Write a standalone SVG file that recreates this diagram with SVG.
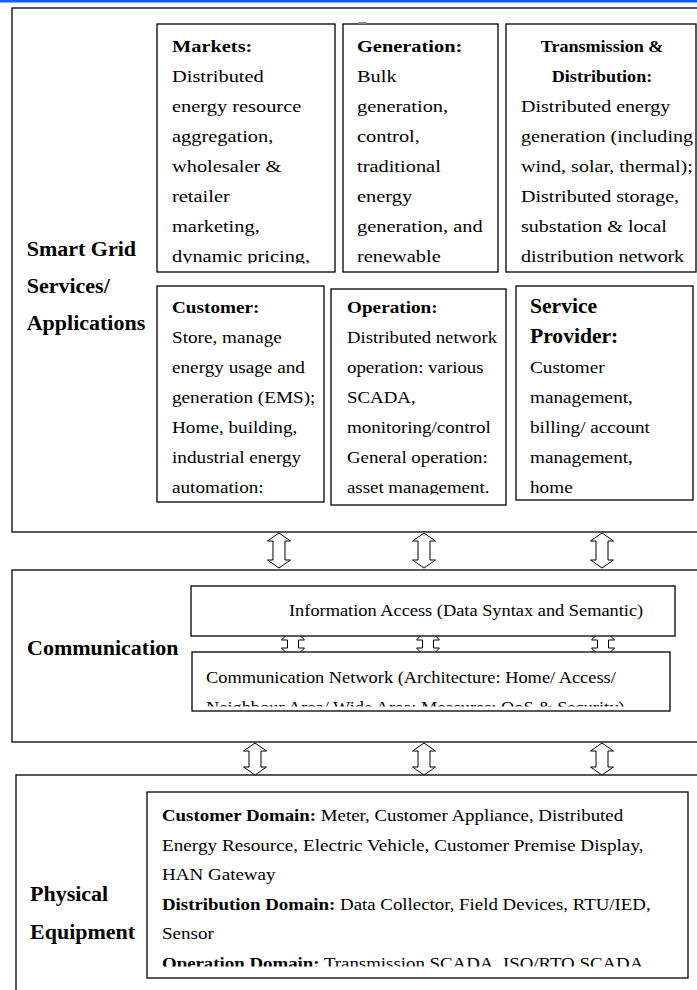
<svg xmlns="http://www.w3.org/2000/svg" width="697" height="990" viewBox="0 0 697 990">
<style>
.box{fill:#fff;stroke:#000;stroke-width:1.3}
.t{font-family:"Liberation Serif","Times New Roman",serif;font-size:17px;fill:#000}
.b{font-weight:bold}
.lab{font-family:"Liberation Serif","Times New Roman",serif;font-size:20px;font-weight:bold;fill:#000}
.arr{fill:#fff;stroke:#000;stroke-width:1}
</style>
<defs>
<clipPath id="cMk"><rect x="157" y="24" width="178" height="239.5"/></clipPath>
<clipPath id="cGe"><rect x="343" y="24" width="155" height="239.5"/></clipPath>
<clipPath id="cTd"><rect x="506" y="24" width="190" height="239.5"/></clipPath>
<clipPath id="cCu"><rect x="157" y="286" width="167" height="208.5"/></clipPath>
<clipPath id="cOp"><rect x="331" y="289" width="175" height="205.5"/></clipPath>
<clipPath id="cSp"><rect x="516" y="286" width="177" height="208.5"/></clipPath>
<clipPath id="cNw"><rect x="192" y="652" width="478" height="54.5"/></clipPath>
<clipPath id="cPh"><rect x="147" y="792" width="541" height="174.5"/></clipPath>
</defs>
<rect x="0" y="0" width="697" height="2.5" fill="#0b5fe8"/>

<g id="layer-services">
<rect class="box" x="12" y="8" width="700" height="524"/>
<text class="lab" transform="matrix(1.1 0 0 1 26.7 256)">Smart Grid</text>
<text class="lab" transform="matrix(1.1 0 0 1 26.7 293)">Services/</text>
<text class="lab" transform="matrix(1.1 0 0 1 26.7 330)">Applications</text>
</g>

<g id="layer-communication">
<rect class="box" x="12" y="570" width="700" height="172"/>
<text class="lab" transform="matrix(1.1 0 0 1 27 655)">Communication</text>
</g>

<g id="layer-physical">
<rect class="box" x="16" y="775" width="700" height="230"/>
<text class="lab" transform="matrix(1.1 0 0 1 30 901)">Physical</text>
<text class="lab" transform="matrix(1.1 0 0 1 30 939)">Equipment</text>
</g>

<g id="connectors">
<path class="arr" d="M279 533 L290.5 541 L285 541 L285 560 L290.5 560 L279 568 L267.5 560 L273 560 L273 541 L267.5 541 Z"/>
<path class="arr" d="M424 533 L435.5 541 L430 541 L430 560 L435.5 560 L424 568 L412.5 560 L418 560 L418 541 L412.5 541 Z"/>
<path class="arr" d="M602 533 L613.5 541 L608 541 L608 560 L613.5 560 L602 568 L590.5 560 L596 560 L596 541 L590.5 541 Z"/>
<path class="arr" d="M293 628 L304.5 640 L298.5 640 L298.5 648 L304.5 648 L293 660 L281.5 648 L287.5 648 L287.5 640 L281.5 640 Z"/>
<path class="arr" d="M428 628 L439.5 640 L433.5 640 L433.5 648 L439.5 648 L428 660 L416.5 648 L422.5 648 L422.5 640 L416.5 640 Z"/>
<path class="arr" d="M603 628 L614.5 640 L608.5 640 L608.5 648 L614.5 648 L603 660 L591.5 648 L597.5 648 L597.5 640 L591.5 640 Z"/>
<path class="arr" d="M255 743 L266.5 751 L261 751 L261 767 L266.5 767 L255 775 L243.5 767 L249 767 L249 751 L243.5 751 Z"/>
<path class="arr" d="M424 743 L435.5 751 L430 751 L430 767 L435.5 767 L424 775 L412.5 767 L418 767 L418 751 L412.5 751 Z"/>
<path class="arr" d="M602 743 L613.5 751 L608 751 L608 767 L613.5 767 L602 775 L590.5 767 L596 767 L596 751 L590.5 751 Z"/>
</g>

<g id="markets">
<rect class="box" x="157" y="24" width="178" height="248"/>
<g clip-path="url(#cMk)" class="t">
<text class="b" transform="matrix(1.2 0 0 1 172 52)">Markets:</text>
<text transform="matrix(1.2 0 0 1 172 82)">Distributed</text>
<text transform="matrix(1.2 0 0 1 172 112)">energy resource</text>
<text transform="matrix(1.2 0 0 1 172 142)">aggregation,</text>
<text transform="matrix(1.2 0 0 1 172 172)">wholesaler &amp;</text>
<text transform="matrix(1.2 0 0 1 172 202)">retailer</text>
<text transform="matrix(1.2 0 0 1 172 232)">marketing,</text>
<text transform="matrix(1.2 0 0 1 172 262)">dynamic pricing,</text>
</g>
</g>

<g id="generation">
<rect class="box" x="343" y="24" width="155" height="248"/>
<rect x="358" y="22" width="9" height="2" fill="#8a8a8a"/>
<g clip-path="url(#cGe)" class="t">
<text class="b" transform="matrix(1.2 0 0 1 357 52)">Generation:</text>
<text transform="matrix(1.2 0 0 1 357 82)">Bulk</text>
<text transform="matrix(1.2 0 0 1 357 112)">generation,</text>
<text transform="matrix(1.2 0 0 1 357 142)">control,</text>
<text transform="matrix(1.2 0 0 1 357 172)">traditional</text>
<text transform="matrix(1.2 0 0 1 357 202)">energy</text>
<text transform="matrix(1.2 0 0 1 357 232)">generation, and</text>
<text transform="matrix(1.2 0 0 1 357 262)">renewable</text>
</g>
</g>

<g id="transmission-distribution">
<rect class="box" x="506" y="24" width="190" height="248"/>
<g clip-path="url(#cTd)" class="t">
<text class="b" text-anchor="middle" style="font-size:16px" transform="matrix(1.13 0 0 1 602 52)">Transmission &amp;</text>
<text class="b" text-anchor="middle" style="font-size:16px" transform="matrix(1.13 0 0 1 602 82)">Distribution:</text>
<text transform="matrix(1.18 0 0 1 521 112)">Distributed energy</text>
<text transform="matrix(1.18 0 0 1 521 142)">generation (including</text>
<text transform="matrix(1.18 0 0 1 521 172)">wind, solar, thermal);</text>
<text transform="matrix(1.18 0 0 1 521 202)">Distributed storage,</text>
<text transform="matrix(1.18 0 0 1 521 232)">substation &amp; local</text>
<text transform="matrix(1.18 0 0 1 521 262)">distribution network</text>
</g>
</g>

<g id="customer">
<rect class="box" x="157" y="286" width="167" height="216"/>
<g clip-path="url(#cCu)" class="t">
<text class="b" transform="matrix(1.13 0 0 1 172 313)">Customer:</text>
<text transform="matrix(1.13 0 0 1 172 343)">Store, manage</text>
<text transform="matrix(1.13 0 0 1 172 373)">energy usage and</text>
<text transform="matrix(1.13 0 0 1 172 403)">generation (EMS);</text>
<text transform="matrix(1.13 0 0 1 172 433)">Home, building,</text>
<text transform="matrix(1.13 0 0 1 172 463)">industrial energy</text>
<text transform="matrix(1.13 0 0 1 172 493)">automation:</text>
</g>
</g>

<g id="operation">
<rect class="box" x="331" y="289" width="175" height="216"/>
<g clip-path="url(#cOp)" class="t">
<text class="b" transform="matrix(1.13 0 0 1 347 313)">Operation:</text>
<text transform="matrix(1.1 0 0 1 347 343)">Distributed network</text>
<text transform="matrix(1.11 0 0 1 347 373)">operation: various</text>
<text transform="matrix(1.11 0 0 1 347 403)">SCADA,</text>
<text transform="matrix(1.12 0 0 1 347 433)">monitoring/control</text>
<text transform="matrix(1.11 0 0 1 347 463)">General operation:</text>
<text transform="matrix(1.11 0 0 1 347 493)">asset management.</text>
</g>
</g>

<g id="service-provider">
<rect class="box" x="516" y="286" width="177" height="214"/>
<g clip-path="url(#cSp)" class="t">
<text class="b" style="font-size:20px" transform="matrix(1.08 0 0 1 530 313)">Service</text>
<text class="b" style="font-size:20px" transform="matrix(1.08 0 0 1 530 343)">Provider:</text>
<text transform="matrix(1.13 0 0 1 530 373)">Customer</text>
<text transform="matrix(1.13 0 0 1 530 403)">management,</text>
<text transform="matrix(1.13 0 0 1 530 433)">billing/ account</text>
<text transform="matrix(1.13 0 0 1 530 463)">management,</text>
<text transform="matrix(1.13 0 0 1 530 493)">home</text>
</g>
</g>

<g id="information-access">
<rect class="box" x="191" y="586" width="484" height="50"/>
<text class="t" transform="matrix(1.08 0 0 1 289 616)">Information Access (Data Syntax and Semantic)</text>
</g>

<g id="communication-network">
<rect class="box" x="192" y="652" width="478" height="59"/>
<g clip-path="url(#cNw)" class="t">
<text transform="matrix(1.08 0 0 1 206 683)">Communication Network (Architecture: Home/ Access/</text>
<text transform="matrix(1.08 0 0 1 206 712.5)">Neighbour Area/ Wide Area; Measures: QoS &amp; Security)</text>
</g>
</g>

<g id="physical-domains">
<rect class="box" x="147" y="792" width="541" height="186"/>
<g clip-path="url(#cPh)" class="t">
<text transform="matrix(1.11 0 0 1 162 821)"><tspan class="b">Customer Domain:</tspan> Meter, Customer Appliance, Distributed</text>
<text transform="matrix(1.13 0 0 1 162 850.5)">Energy Resource, Electric Vehicle, Customer Premise Display,</text>
<text transform="matrix(1.12 0 0 1 162 880)">HAN Gateway</text>
<text transform="matrix(1.11 0 0 1 162 909.5)"><tspan class="b">Distribution Domain:</tspan> Data Collector, Field Devices, RTU/IED,</text>
<text transform="matrix(1.12 0 0 1 162 939)">Sensor</text>
<text transform="matrix(1.11 0 0 1 162 968.5)"><tspan class="b">Operation Domain:</tspan> Transmission SCADA, ISO/RTO SCADA</text>
</g>
</g>
</svg>
